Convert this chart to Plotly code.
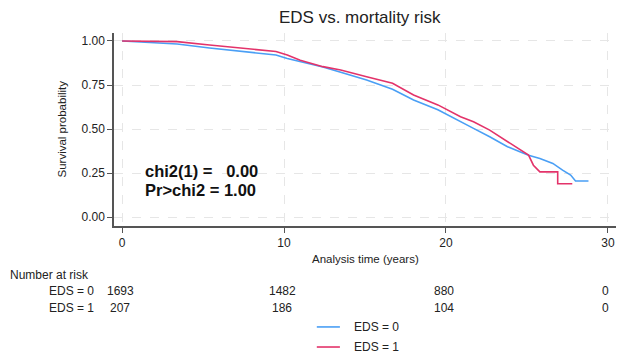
import plotly.graph_objects as go

# ---- data ----
t_eds0 = [0, 1.3, 3.4, 5.4, 7.5, 9.5, 10.2, 12.4, 13.5, 15.1, 16.7, 18.0, 19.5, 20.8, 21.7, 22.7, 23.8, 24.6, 25.1, 25.8, 26.6, 27.2, 27.7, 28.0, 28.8]
s_eds0 = [1.0, 0.995, 0.983, 0.96, 0.94, 0.92, 0.90, 0.852, 0.822, 0.778, 0.726, 0.665, 0.61, 0.55, 0.504, 0.456, 0.40, 0.37, 0.352, 0.333, 0.305, 0.267, 0.239, 0.205, 0.205]

t_eds1 = [0, 1.3, 3.4, 5.4, 7.5, 9.5, 10.2, 11, 12.4, 13.5, 15.1, 16.7, 18.0, 19.5, 20.9, 21.7, 22.7, 23.8, 24.6, 25.1, 25.4, 25.8, 26.9, 26.9, 27.8]
s_eds1 = [1.0, 1.0, 0.996, 0.977, 0.958, 0.94, 0.92, 0.89, 0.854, 0.835, 0.797, 0.76, 0.693, 0.637, 0.57, 0.541, 0.494, 0.428, 0.38, 0.352, 0.295, 0.257, 0.257, 0.19, 0.19]

risk_times = [0, 10, 20, 30]
risk_eds0 = [1693, 1482, 880, 0]
risk_eds1 = [207, 186, 104, 0]
group_labels = ["EDS = 0", "EDS = 1"]

test_lines = ["chi2(1) = &nbsp;&nbsp;0.00", "Pr&gt;chi2 = 1.00"]

x_ticks = [0, 10, 20, 30]
y_ticks = [0.0, 0.25, 0.5, 0.75, 1.0]

BLUE = "#4a9ff5"
RED = "#e3336a"
COLORS = [BLUE, RED]
FONT = "Liberation Sans, Arial, sans-serif"

fig = go.Figure()
fig.add_trace(go.Scatter(x=t_eds0, y=s_eds0, mode="lines", name=group_labels[0],
                         line=dict(color=BLUE, width=1.6)))
fig.add_trace(go.Scatter(x=t_eds1, y=s_eds1, mode="lines", name=group_labels[1],
                         line=dict(color=RED, width=1.6)))

axis_common = dict(showline=True, linecolor="#555555", linewidth=1.5,
                   ticks="outside", ticklen=5, tickcolor="#555555", tickwidth=1.3,
                   showgrid=True, gridcolor="#e6e6e6", griddash="dash", gridwidth=1,
                   zeroline=False, tickfont=dict(family=FONT, size=12, color="#222222"))

fig.update_xaxes(range=[-0.5, 30.5], tickvals=x_ticks, **axis_common)
fig.update_yaxes(range=[-0.05, 1.045], tickvals=y_ticks, tickformat=".2f", **axis_common)

ann = []
ann.append(dict(text="EDS vs. mortality risk", xref="paper", yref="paper", x=0.49, y=1.0,
                yshift=4, xanchor="center", yanchor="bottom", showarrow=False,
                font=dict(family=FONT, size=17, color="#222222")))
ann.append(dict(text="Survival probability", xref="paper", yref="paper", x=0, y=0.5,
                xshift=-53, textangle=-90, xanchor="center", yanchor="middle", showarrow=False,
                font=dict(family=FONT, size=11.5, color="#222222")))
ann.append(dict(text="Analysis time (years)", xref="paper", yref="paper", x=0.5, y=0,
                yshift=-33, xanchor="center", yanchor="middle", showarrow=False,
                font=dict(family=FONT, size=11.5, color="#222222")))
# log-rank test text, one annotation per line
for i, line in enumerate(test_lines):
    ann.append(dict(text="<b>" + line + "</b>", xref="x", yref="y",
                    x=1.3, y=0.263 - 0.106 * i, xanchor="left", yanchor="middle",
                    align="left", showarrow=False,
                    font=dict(family=FONT, size=16.5, color="#111111")))
# number at risk table
ann.append(dict(text="Number at risk", xref="paper", yref="paper", x=0, y=0, xshift=-106,
                yshift=-49, xanchor="left", yanchor="middle", showarrow=False,
                font=dict(family=FONT, size=12, color="#222222")))
for row, (lab, vals) in enumerate(zip(group_labels, [risk_eds0, risk_eds1])):
    ys = -65 - 16.5 * row
    ann.append(dict(text=lab, xref="paper", yref="paper", x=0, y=0, xshift=-67, yshift=ys,
                    xanchor="left", yanchor="middle", showarrow=False,
                    font=dict(family=FONT, size=12, color="#222222")))
    for t, v in zip(risk_times, vals):
        ann.append(dict(text=str(v), xref="x", yref="paper", x=t, y=0, xshift=-2, yshift=ys,
                        xanchor="center", yanchor="middle", showarrow=False,
                        font=dict(family=FONT, size=12, color="#222222")))

# manual legend (keeps the plot area fixed)
shapes = []
for i, (lab, col) in enumerate(zip(group_labels, COLORS)):
    ly = -0.523 - 0.104 * i
    shapes.append(dict(type="line", xref="paper", yref="paper", x0=0.404, x1=0.450,
                       y0=ly, y1=ly, line=dict(color=col, width=1.6)))
    ann.append(dict(text=lab, xref="paper", yref="paper", x=0.474, y=ly,
                    xanchor="left", yanchor="middle", showarrow=False,
                    font=dict(family=FONT, size=12, color="#222222")))

fig.update_layout(
    width=618, height=356,
    margin=dict(l=114, r=2, t=33, b=130),
    plot_bgcolor="white", paper_bgcolor="white",
    annotations=ann, shapes=shapes,
    showlegend=False,
)

fig.write_html("out.html")
